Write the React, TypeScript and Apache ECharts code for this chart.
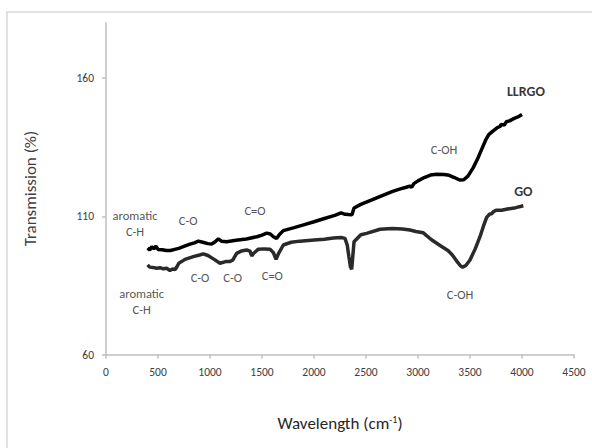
import React, { useEffect, useRef } from "react";
import * as echarts from "echarts";

// Wavenumber (cm-1) / transmission (%) for LLRGO
const llrgoX = [400, 420, 440, 460, 480, 500, 540, 580, 620, 660, 700, 743, 800, 850, 888, 930, 980, 1016, 1050, 1080, 1110, 1160, 1250, 1350, 1450, 1500, 1545, 1580, 1610, 1640, 1670, 1705, 1800, 1900, 2000, 2100, 2200, 2260, 2300, 2330, 2365, 2385, 2450, 2550, 2650, 2750, 2830, 2880, 2920, 2940, 2960, 3000, 3060, 3120, 3180, 3250, 3300, 3350, 3400, 3440, 3480, 3530, 3570, 3610, 3650, 3680, 3720, 3760, 3790, 3800, 3830, 3850, 3880, 3920, 3960, 4000];
const llrgoY = [98.5, 97.8, 99.0, 98.2, 99.2, 98.0, 97.9, 97.6, 97.6, 98.0, 98.4, 99.0, 99.8, 100.4, 101.0, 100.6, 100.1, 100.0, 100.8, 101.8, 101.0, 100.8, 101.3, 101.8, 102.6, 103.2, 103.9, 103.6, 102.6, 102.0, 103.5, 104.8, 105.8, 106.9, 108.0, 109.2, 110.3, 111.2, 110.7, 110.6, 110.5, 113.0, 114.3, 115.8, 117.4, 118.9, 119.9, 120.4, 120.9, 120.5, 121.8, 122.8, 124.0, 124.9, 125.2, 125.1, 124.8, 124.0, 123.1, 123.2, 124.5, 127.5, 130.5, 134.0, 137.5, 139.5, 140.8, 142.0, 142.5, 143.2, 143.0, 144.2, 144.5, 145.3, 145.9, 146.8];

// Wavenumber (cm-1) / transmission (%) for GO
const goX = [400, 420, 450, 487, 520, 550, 583, 615, 640, 663, 680, 700, 760, 840, 900, 936, 980, 1040, 1096, 1150, 1192, 1220, 1256, 1300, 1353, 1385, 1401, 1420, 1465, 1520, 1577, 1610, 1635, 1660, 1705, 1780, 1865, 2000, 2100, 2186, 2260, 2298, 2320, 2335, 2350, 2362, 2372, 2385, 2450, 2506, 2635, 2750, 2850, 2923, 2980, 3051, 3130, 3212, 3291, 3330, 3372, 3410, 3430, 3460, 3500, 3550, 3596, 3630, 3660, 3690, 3708, 3730, 3756, 3804, 3860, 3940, 4013];
const goY = [92.4, 91.6, 91.5, 91.2, 91.4, 91.0, 91.2, 90.4, 90.9, 90.7, 91.6, 93.0, 94.4, 95.4, 96.0, 96.4, 95.8, 94.4, 93.0, 93.6, 93.6, 94.2, 96.6, 97.4, 97.8, 97.4, 95.6, 96.6, 98.1, 98.2, 98.1, 96.8, 94.4, 96.6, 99.6, 100.6, 101.0, 101.4, 101.7, 102.1, 102.3, 102.0, 99.5, 95.5, 91.8, 90.8, 95.0, 100.8, 103.3, 103.8, 105.3, 105.6, 105.4, 105.0, 104.5, 104.0, 101.5, 99.4, 97.5, 96.0, 93.8, 92.0, 91.6, 92.2, 94.2, 98.2, 102.6, 106.5, 109.6, 110.8, 110.9, 111.8, 112.2, 112.2, 112.6, 113.1, 113.8];

// Peak annotations (data units)
const noteX = [279, 791, 1433, 904, 1218, 1599, 343, 3250, 3404];
const noteY = [107.2, 108.4, 111.9, 87.8, 87.8, 88.4, 79.1, 134.2, 81.6];
const noteText = ["aromatic\nC-H", "C-O", "C=O", "C-O", "C-O", "C=O", "aromatic\nC-H", "C-OH", "C-OH"];

// Series name labels
const seriesNames = ["LLRGO", "GO"];
const seriesLabelX = [4038, 4013];
const seriesLabelY = [155.1, 119.1];

const yTicks = [60, 110, 160];

const FONT = "Carlito, Lato, 'Noto Sans', sans-serif";

export default function App() {
  const ref = useRef<HTMLDivElement>(null);
  useEffect(() => {
    if (!ref.current) return;
    const chart = echarts.init(ref.current, null, { renderer: "svg" });
    const axisColor = "#bfbfbf";
    chart.setOption({
      animation: false,
      textStyle: { fontFamily: FONT },
      graphic: [
        {
          type: "rect",
          shape: { x: 7, y: 12, width: 700, height: 600 },
          style: { fill: "none", stroke: "#d9d9d9", lineWidth: 1.5 },
          silent: true,
        },
      ],
      grid: { left: 106, right: 18, top: 22.7, bottom: 93.5 },
      xAxis: {
        type: "value",
        min: 0,
        max: 4500,
        interval: 500,
        name: "Wavelength (cm{sup|-1})",
        nameLocation: "middle",
        nameGap: 60,
        nameTextStyle: {
          fontFamily: FONT,
          fontSize: 17,
          color: "#262626",
          rich: {
            sup: { fontSize: 10, verticalAlign: "top", color: "#262626", fontFamily: FONT },
          },
        },
        axisLine: { show: true, lineStyle: { color: axisColor, width: 1.5 } },
        axisTick: { show: true, length: 4, lineStyle: { color: axisColor, width: 1.5 } },
        axisLabel: {
          fontSize: 11.5,
          color: "#404040",
          margin: 11,
          fontFamily: FONT,
          formatter: (v: number) => String(v),
        },
        splitLine: { show: false },
      },
      yAxis: {
        type: "value",
        min: 60,
        max: 180,
        interval: 50,
        name: "Transmission (%)",
        nameLocation: "middle",
        nameGap: 67,
        nameTextStyle: { fontFamily: FONT, fontSize: 17, color: "#404040" },
        axisLine: { show: true, lineStyle: { color: axisColor, width: 1.5 } },
        axisTick: { show: true, length: 4, customValues: yTicks, lineStyle: { color: axisColor, width: 1.5 } },
        axisLabel: {
          fontSize: 11.5,
          color: "#404040",
          margin: 12,
          customValues: yTicks,
          fontFamily: FONT,
          formatter: (v: number) => String(v),
        },
        splitLine: { show: false },
      },
      series: [
        {
          name: "LLRGO",
          type: "line",
          showSymbol: false,
          silent: true,
          data: llrgoX.map((x, i) => [x, llrgoY[i]]),
          lineStyle: { color: "#000000", width: 3.5 },
          z: 3,
        },
        {
          name: "GO",
          type: "line",
          showSymbol: false,
          silent: true,
          data: goX.map((x, i) => [x, goY[i]]),
          lineStyle: { color: "#2a2a2a", width: 3.5 },
          z: 2,
        },
        {
          name: "notes",
          type: "scatter",
          silent: true,
          symbolSize: 1,
          itemStyle: { color: "rgba(0,0,0,0)" },
          data: noteX.map((x, i) => ({ value: [x, noteY[i]], name: noteText[i] })),
          label: {
            show: true,
            position: "inside",
            formatter: "{b}",
            fontSize: 12.5,
            lineHeight: 16,
            color: "#262626",
            fontFamily: FONT,
          },
        },
        {
          name: "names",
          type: "scatter",
          silent: true,
          symbolSize: 1,
          itemStyle: { color: "rgba(0,0,0,0)" },
          data: seriesLabelX.map((x, i) => ({ value: [x, seriesLabelY[i]], name: seriesNames[i] })),
          label: {
            show: true,
            position: "inside",
            formatter: "{b}",
            fontSize: 14,
            fontWeight: "bold",
            color: "#000000",
            fontFamily: FONT,
          },
        },
      ],
    });
    return () => chart.dispose();
  }, []);
  return (
    <div
      ref={ref}
      style={{ position: "absolute", left: 0, top: 0, width: 592, height: 448, background: "#fff" }}
    />
  );
}
